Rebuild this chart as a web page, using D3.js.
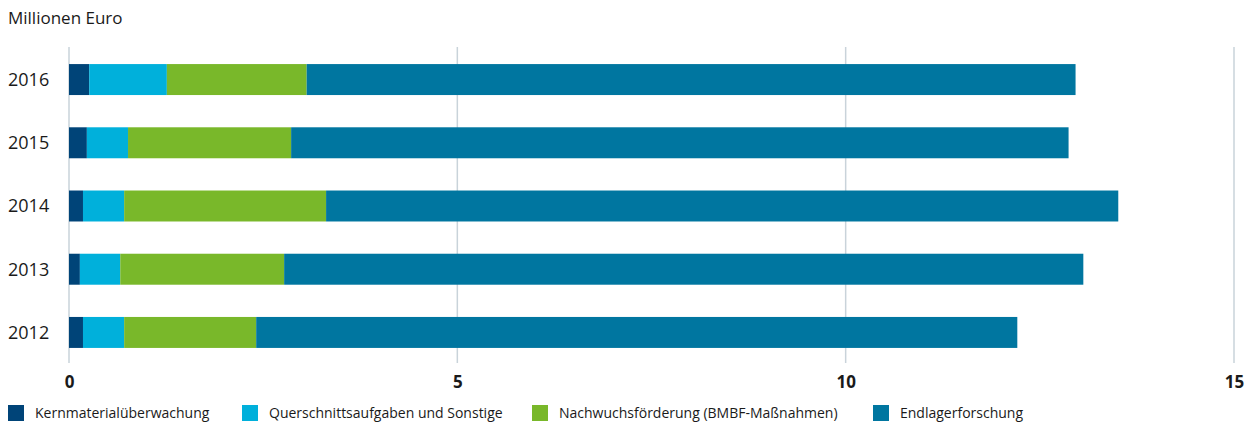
<!DOCTYPE html>
<html>
<head>
<meta charset="utf-8">
<script src="https://cdn.jsdelivr.net/npm/d3@7"></script>
<style>
  body { margin: 0; background: #fff; }
  svg { display: block; font-family: "Open Sans", sans-serif; }
</style>
</head>
<body>
<div id="chart"></div>
<script>
const years = ["2016", "2015", "2014", "2013", "2012"];
const seriesNames = ["Kernmaterialüberwachung", "Querschnittsaufgaben und Sonstige", "Nachwuchsförderung (BMBF-Maßnahmen)", "Endlagerforschung"];
const colors = ["#004478", "#00b0db", "#79b82a", "#0076a0"];

// Werte je Jahr (Millionen Euro), Reihenfolge wie years
const kern = [0.26, 0.23, 0.18, 0.14, 0.18];
const quer = [1.00, 0.53, 0.53, 0.52, 0.53];
const nach = [1.80, 2.10, 2.60, 2.11, 1.70];
const endl = [9.90, 10.01, 10.20, 10.29, 9.80];

const xTicks = [0, 5, 10, 15];

const width = 1251;
const height = 423;

const svg = d3.select("#chart")
  .append("svg")
  .attr("width", width)
  .attr("height", height);

const x = d3.scaleLinear().domain([0, 15]).range([69, 1234]);
const y = d3.scaleBand().domain(years).range([47, 365]).paddingInner(0.51).paddingOuter(0.27);

// Gitterlinien
svg.append("g")
  .selectAll("line")
  .data(xTicks)
  .join("line")
  .attr("x1", d => x(d))
  .attr("x2", d => x(d))
  .attr("y1", 47)
  .attr("y2", 363)
  .attr("stroke", "#c9d3da")
  .attr("stroke-width", 1.5);

const rows = years.map((yr, i) => ({ year: yr, vals: [kern[i], quer[i], nach[i], endl[i]] }));
const stack = d3.stack()
  .keys([0, 1, 2, 3])
  .value((d, k) => d.vals[k]);
const layers = stack(rows);

svg.append("g")
  .selectAll("g")
  .data(layers)
  .join("g")
  .attr("fill", d => colors[d.key])
  .selectAll("rect")
  .data(d => d)
  .join("rect")
  .attr("x", d => x(d[0]))
  .attr("width", d => x(d[1]) - x(d[0]))
  .attr("y", d => y(d.data.year))
  .attr("height", y.bandwidth());

// Jahresbeschriftung
svg.append("g")
  .selectAll("text")
  .data(years)
  .join("text")
  .attr("x", 8)
  .attr("y", d => y(d) + y.bandwidth() / 2)
  .attr("dy", "0.35em")
  .attr("fill", "#1a1a1a")
  .style("font-size", "18px")
  .text(d => d);

// x-Achse
const xAxis = d3.axisBottom(x).tickValues(xTicks).tickSize(0).tickPadding(0);
svg.append("g")
  .attr("transform", "translate(0,376)")
  .call(xAxis)
  .call(g => g.select(".domain").remove())
  .call(g => g.selectAll("text")
    .attr("fill", "#1a1a1a")
    .style("font-family", "'Open Sans', sans-serif")
    .style("font-size", "17px")
    .style("font-weight", "bold"));

svg.append("text")
  .attr("x", 8)
  .attr("y", 24)
  .attr("fill", "#1a1a1a")
  .style("font-size", "17px")
  .text("Millionen Euro");

// Legende
const legendX = [8, 242, 532, 873];
const legend = svg.append("g")
  .selectAll("g")
  .data(seriesNames)
  .join("g")
  .attr("transform", (d, i) => `translate(${legendX[i]},405)`);

legend.append("rect")
  .attr("width", 16)
  .attr("height", 16)
  .attr("fill", (d, i) => colors[i]);

legend.append("text")
  .attr("x", 27)
  .attr("y", 8)
  .attr("dy", "0.35em")
  .attr("fill", "#1a1a1a")
  .style("font-size", "14px")
  .text(d => d);
</script>
</body>
</html>
